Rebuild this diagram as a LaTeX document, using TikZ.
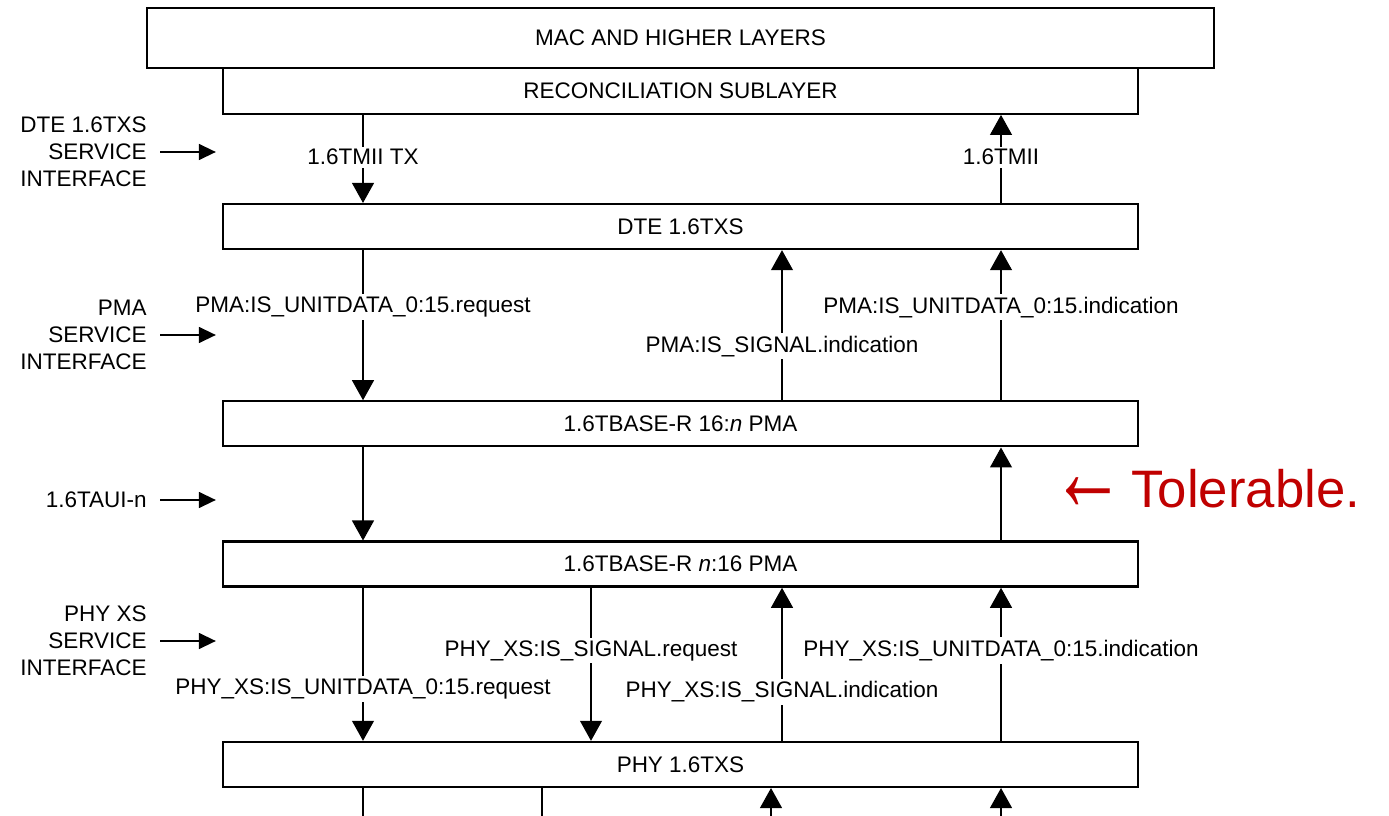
\documentclass[tikz,border=0pt]{standalone}
\usepackage{fontspec}
\setmainfont{Liberation Sans}
\usepackage{xcolor}
\usepackage{tikz}
\usetikzlibrary{arrows.meta,positioning}
\definecolor{tolred}{HTML}{C00000}

\begin{document}
\begin{tikzpicture}[
    font=\fontsize{12.8}{15.4}\selectfont,
    layer/.style={rectangle, draw, line width=1.3pt, minimum width=18.3cm, minimum height=0.9cm, align=center},
    flow/.style={-{Triangle[length=0.4cm, width=0.44cm]}, line width=0.6pt},
    plain/.style={line width=0.6pt},
    sig/.style={fill=white, inner sep=1.5pt},
    iface/.style={align=right, inner sep=0.1cm},
    ifarrow/.style={-{Triangle[length=0.34cm, width=0.32cm]}, line width=0.8pt, shorten <=0.16cm, shorten >=0.12cm}
]
    \useasboundingbox (0,0) rectangle (27.78,-16.32);

    \node[layer, minimum width=21.34cm, minimum height=1.2cm] (mac) at (13.61,-0.76) {MAC AND HIGHER LAYERS};
    \node[layer, minimum height=0.92cm, below=-0.05cm of mac] (rs) {RECONCILIATION SUBLAYER};
    \node[layer, below=1.76cm of rs] (dte) {DTE 1.6TXS};
    \node[layer, below=3.0cm of dte] (pmaa) {1.6TBASE-R 16:\textit{n} PMA};
    \node[layer, below=1.86cm of pmaa] (pmab) {1.6TBASE-R \textit{n}:16 PMA};
    \node[layer, below=3.06cm of pmab] (phy) {PHY 1.6TXS};

    \coordinate (c1) at (7.26,0);
    \coordinate (c2) at (11.82,0);
    \coordinate (c3) at (15.64,0);
    \coordinate (c4) at (20.02,0);
    \coordinate (c5) at (10.84,0);
    \coordinate (c6) at (15.42,0);
    \coordinate (bot) at (0,-16.6);

    \draw[flow] (rs.south -| c1) -- node[sig, pos=0.48] {1.6TMII TX} (dte.north -| c1);
    \draw[flow] (dte.north -| c4) -- node[sig, pos=0.52] {1.6TMII} (rs.south -| c4);

    \draw[flow] (dte.south -| c1) -- node[sig, pos=0.38] {PMA:IS\_UNITDATA\_0:15.request} (pmaa.north -| c1);
    \draw[flow] (pmaa.north -| c3) -- node[sig, pos=0.36] {PMA:IS\_SIGNAL.indication} (dte.south -| c3);
    \draw[flow] (pmaa.north -| c4) -- node[sig, pos=0.62] {PMA:IS\_UNITDATA\_0:15.indication} (dte.south -| c4);

    \draw[flow] (pmaa.south -| c1) -- (pmab.north -| c1);
    \draw[flow] (pmab.north -| c4) -- (pmaa.south -| c4);

    \draw[flow] (pmab.south -| c1) -- node[sig, pos=0.66] {PHY\_XS:IS\_UNITDATA\_0:15.request} (phy.north -| c1);
    \draw[flow] (pmab.south -| c2) -- node[sig, pos=0.41] {PHY\_XS:IS\_SIGNAL.request} (phy.north -| c2);
    \draw[flow] (phy.north -| c3) -- node[sig, pos=0.32] {PHY\_XS:IS\_SIGNAL.indication} (pmab.south -| c3);
    \draw[flow] (phy.north -| c4) -- node[sig, pos=0.59] {PHY\_XS:IS\_UNITDATA\_0:15.indication} (pmab.south -| c4);

    \draw[plain] (phy.south -| c1) -- (bot -| c1);
    \draw[plain] (phy.south -| c5) -- (bot -| c5);
    \draw[flow] (bot -| c6) -- (phy.south -| c6);
    \draw[flow] (bot -| c4) -- (phy.south -| c4);

    \node[iface, anchor=east] (ifdte) at (3.04,-3.04) {DTE 1.6TXS\\SERVICE\\INTERFACE};
    \node[iface, anchor=east] (ifpma) at (3.04,-6.7) {PMA\\SERVICE\\INTERFACE};
    \node[iface, anchor=east] (ifaui) at (3.04,-10.0) {1.6TAUI-n};
    \node[iface, anchor=east] (ifphy) at (3.04,-12.82) {PHY XS\\SERVICE\\INTERFACE};

    \draw[ifarrow] (ifdte.east) -- (ifdte.east -| dte.west);
    \draw[ifarrow] (ifpma.east) -- (ifpma.east -| dte.west);
    \draw[ifarrow] (ifaui.east) -- (ifaui.east -| dte.west);
    \draw[ifarrow] (ifphy.east) -- (ifphy.east -| dte.west);

    \node[anchor=west, inner sep=0pt, text=tolred, font=\fontsize{30}{36}\selectfont] (tol) at (21.02,-9.8) {\raisebox{-0.06em}{\scalebox{1.4}[2.2]{←}}\hspace{0.12em}Tolerable.};
\end{tikzpicture}
\end{document}
